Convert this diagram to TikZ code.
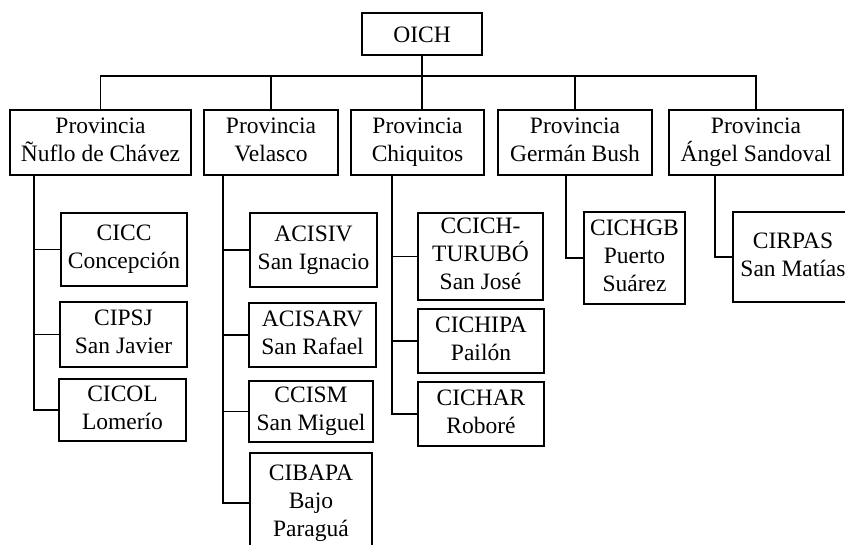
\documentclass[tikz,border=0pt]{standalone}
\usepackage{fontspec}
\setmainfont{Liberation Serif}
\usepackage{tikz}

\newcommand{\linestrut}{\vrule height 22.6pt depth 5.4pt width 0pt}

\begin{document}
\begin{tikzpicture}[x=1pt, y=-1pt, line width=1.7pt,
    box/.style={draw=black, inner sep=0pt, align=center,
      font=\fontsize{23.5}{28}\selectfont,
      execute at begin node={\linestrut}, execute at end node={\linestrut}},
    top/.style={box, minimum width=120pt, minimum height=42pt},
    prov/.style={box, minimum height=65pt}]
    \useasboundingbox (0,0) rectangle (845,544);
    % head and provinces
    \node[top] (oich) at (422,34) {OICH};
    \node[prov, minimum width=181pt] (nuflo) at (100.5,142.5) {Provincia\\Ñuflo de Chávez};
    \node[prov, minimum width=134pt] (velasco) at (271,142.5) {Provincia\\Velasco};
    \node[prov, minimum width=133pt] (chiq) at (417.5,142.5) {Provincia\\Chiquitos};
    \node[prov, minimum width=154pt] (bush) at (575,142.5) {Provincia\\Germán Bush};
    \node[prov, minimum width=174pt] (ang) at (756,142.5) {Provincia\\Ángel Sandoval};
    \coordinate (bus) at (0,76);
    \draw (nuflo.north) -- (nuflo.north |- bus) -- (ang.north |- bus) -- (ang.north);
    \draw (velasco.north) -- (velasco.north |- bus);
    \draw (bush.north) -- (bush.north |- bus);
    \draw (oich.south) -- (oich.south |- chiq.north);
    % organisations
    \node[box, minimum width=126pt, minimum height=73pt] (cicc) at (124,249.5) {CICC\\Concepción};
    \node[box, minimum width=127pt, minimum height=65pt] (cipsj) at (123.5,334.5) {CIPSJ\\San Javier};
    \node[box, minimum width=127pt, minimum height=62pt] (cicol) at (122.5,410) {CICOL\\Lomerío};
    \node[box, minimum width=127pt, minimum height=74pt] (acisiv) at (313.5,250) {ACISIV\\San Ignacio};
    \node[box, minimum width=127pt, minimum height=64pt] (acisarv) at (312.5,335) {ACISARV\\San Rafael};
    \node[box, minimum width=124pt, minimum height=61pt] (ccism) at (311,411.5) {CCISM\\San Miguel};
    \node[box, minimum width=122pt, minimum height=100pt] (cibapa) at (311,503) {CIBAPA\\Bajo\\Paraguá};
    \node[box, minimum width=125pt, minimum height=87pt] (ccich) at (480.5,256.5) {CCICH-\\TURUBÓ\\San José};
    \node[box, minimum width=126pt, minimum height=64pt] (cichipa) at (481,341) {CICHIPA\\Pailón};
    \node[box, minimum width=126pt, minimum height=64pt] (cichar) at (481,414) {CICHAR\\Roboré};
    \node[box, minimum width=101pt, minimum height=92pt] (cichgb) at (634.5,258) {CICHGB\\Puerto\\Suárez};
    \node[box, minimum width=120pt, minimum height=90pt] (cirpas) at (793,257) {CIRPAS\\San Matías};
    % trunks
    \coordinate (tn) at (34,0);
    \coordinate (tv) at (223,0);
    \coordinate (tc) at (392,0);
    \coordinate (tb) at (566,0);
    \coordinate (ta) at (715,0);
    \draw (tn |- nuflo.south) |- (cicol.west);
    \draw (tn |- cicc.west) -- (cicc.west);
    \draw (tn |- cipsj.west) -- (cipsj.west);
    \draw (tv |- velasco.south) |- (cibapa.west);
    \draw (tv |- acisiv.west) -- (acisiv.west);
    \draw (tv |- acisarv.west) -- (acisarv.west);
    \draw (tv |- ccism.west) -- (ccism.west);
    \draw (tc |- chiq.south) |- (cichar.west);
    \draw (tc |- ccich.west) -- (ccich.west);
    \draw (tc |- cichipa.west) -- (cichipa.west);
    \draw (tb |- bush.south) |- (cichgb.west);
    \draw (ta |- ang.south) |- (cirpas.west);
  \end{tikzpicture}
\end{document}
